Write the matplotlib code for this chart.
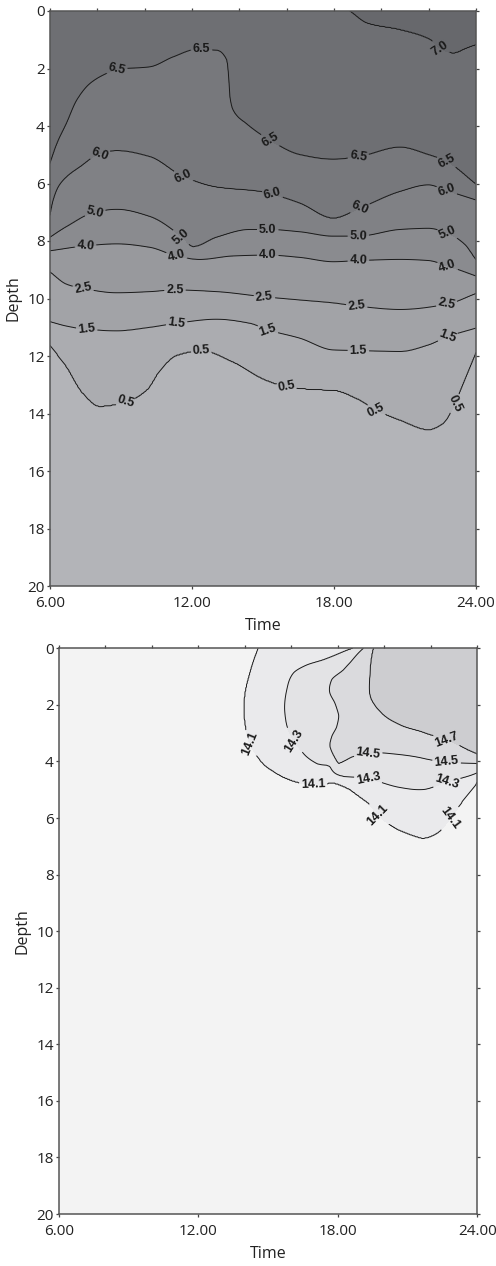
import numpy as np
import matplotlib
matplotlib.use('Agg')
import matplotlib.pyplot as plt
from matplotlib.ticker import MultipleLocator, FixedLocator, FixedFormatter

# ---------------- Top panel: isoline depths ----------------
o2_levels = [7.0, 6.5, 6.0, 5.0, 4.0, 2.5, 1.5, 0.5]

o2_70_time = [6.0, 18.0, 18.65, 19.4, 20.79, 22.06, 22.48, 23.04, 23.6, 24.0]
o2_70_depth = [-0.8, -0.3, 0.0, 0.43, 0.66, 1.0, 1.3, 1.47, 1.3, 1.18]

o2_65_time = [6.0, 6.3, 6.7, 7.13, 7.69, 8.39, 8.82, 10.22, 11.21, 12.2, 13.04, 13.47,
              13.55, 13.6, 13.74, 14.3, 15.3, 16.56, 17.97, 19.03, 20.79, 21.99, 22.76, 24.0]
o2_65_depth = [5.3, 4.6, 3.9, 3.1, 2.52, 2.17, 2.03, 1.94, 1.59, 1.33, 1.36, 1.7,
               2.27, 2.97, 3.45, 3.92, 4.5, 5.0, 5.16, 5.07, 4.74, 5.0, 5.24, 6.03]

o2_60_time = [6.0, 6.14, 6.35, 6.7, 7.27, 8.1, 8.82, 10.22, 11.63, 13.04, 14.87, 15.4,
              16.56, 17.97, 19.1, 20.79, 21.99, 22.76, 24.0]
o2_60_depth = [7.1, 6.57, 6.12, 5.77, 5.42, 4.97, 4.86, 5.07, 5.76, 6.13, 6.28, 6.38,
               6.69, 7.21, 6.86, 6.28, 6.05, 6.25, 6.57]

o2_50_time = [6.0, 6.7, 7.9, 8.82, 10.22, 11.56, 12.05, 13.04, 14.45, 15.2, 16.56, 17.97,
              19.03, 20.79, 21.99, 22.8, 23.5, 24.0]
o2_50_depth = [7.87, 7.5, 7.0, 6.9, 7.15, 7.85, 8.2, 7.87, 7.6, 7.6, 7.68, 7.83,
               7.83, 7.6, 7.56, 7.73, 8.1, 8.66]

o2_40_time = [6.0, 7.5, 8.82, 10.22, 11.35, 12.33, 13.74, 15.2, 16.56, 17.97, 19.03, 20.79,
              21.99, 22.8, 24.0]
o2_40_depth = [8.34, 8.17, 8.1, 8.22, 8.52, 8.64, 8.52, 8.49, 8.57, 8.72, 8.68, 8.64,
               8.68, 8.87, 9.22]

o2_25_time = [6.0, 6.7, 7.4, 8.82, 10.22, 11.28, 13.04, 15.06, 16.56, 17.97, 18.96, 20.79,
              22.76, 24.0]
o2_25_depth = [9.07, 9.5, 9.65, 9.8, 9.76, 9.7, 9.76, 9.94, 10.05, 10.15, 10.26, 10.38,
               10.2, 9.82]

o2_15_time = [6.0, 6.7, 7.55, 8.82, 10.22, 11.35, 13.04, 14.45, 15.2, 16.56, 17.97, 19.03,
              20.79, 21.99, 22.8, 24.0]
o2_15_depth = [10.81, 10.96, 11.07, 11.12, 11.0, 10.86, 10.72, 10.86, 11.09, 11.38, 11.79, 11.81,
               11.84, 11.61, 11.32, 11.03]

o2_05_time = [6.0, 6.7, 7.4, 8.1, 9.2, 10.08, 10.65, 11.35, 12.4, 13.74, 15.15, 15.99,
              17.26, 17.97, 18.96, 19.8, 20.79, 21.99, 22.6, 23.1, 23.45, 24.0]
o2_05_depth = [11.62, 12.37, 13.3, 13.74, 13.59, 13.18, 12.49, 11.97, 11.8, 12.2, 12.84, 13.05,
               13.16, 13.18, 13.47, 13.88, 14.22, 14.55, 14.34, 13.65, 12.95, 11.85]

o2_label_pos = [(8.82, 2.03), (12.4, 1.33), (15.3, 4.5), (19.03, 5.07), (22.76, 5.24),
                (22.48, 1.3),
                (8.1, 4.97), (11.63, 5.76), (15.4, 6.38), (19.1, 6.86), (22.76, 6.25),
                (7.9, 7.0), (11.56, 7.85), (15.2, 7.6), (19.03, 7.83), (22.8, 7.73),
                (7.5, 8.17), (11.35, 8.52), (15.2, 8.49), (19.03, 8.68), (22.8, 8.87),
                (7.4, 9.65), (11.28, 9.7), (15.06, 9.94), (18.96, 10.26), (22.76, 10.2),
                (7.55, 11.07), (11.35, 10.86), (15.2, 11.09), (19.03, 11.81), (22.8, 11.32),
                (9.2, 13.59), (12.4, 11.8), (15.99, 13.05), (19.8, 13.88), (23.1, 13.65)]

o2_fill_colors = ['#b3b4b8', '#abacb0', '#a2a3a7', '#98999d', '#8a8b8f',
                  '#808185', '#77787c', '#6e6f73', '#67686c']

# ---------------- Bottom panel: isolines ----------------
temp_levels = [14.7, 14.5, 14.3, 14.1]

temp_147_time = [19.52, 19.38, 19.45, 19.89, 20.67, 21.68, 22.68, 23.9, 24.0]
temp_147_depth = [0.0, 0.88, 1.83, 2.3, 2.71, 2.98, 3.24, 3.71, 3.75]

temp_145_time = [19.1, 18.23, 17.73, 17.66, 17.88, 18.02, 17.95, 17.73, 17.66, 17.8,
                 18.02, 18.66, 20.1, 21.68, 23.9, 24.0]
temp_145_depth = [0.0, 0.77, 1.12, 1.59, 1.95, 2.3, 2.77, 3.13, 3.48, 3.77,
                  4.07, 3.83, 3.71, 3.89, 4.07, 4.08]

temp_143_time = [18.66, 17.37, 16.66, 16.08, 15.8, 15.72, 15.87, 16.51, 17.09, 17.66,
                 17.8, 19.31, 20.67, 21.68, 22.68, 24.0]
temp_143_depth = [0.0, 0.41, 0.59, 0.88, 1.47, 2.3, 2.89, 3.71, 4.07, 4.19,
                  4.36, 4.6, 4.92, 4.99, 4.72, 4.4]

temp_141_time = [14.58, 14.22, 14.0, 14.0, 14.22, 14.65, 15.37, 16.23, 16.94, 17.95,
                 18.66, 19.24, 19.74, 20.67, 21.53, 22.25, 22.82, 23.4, 24.0]
temp_141_depth = [0.0, 0.88, 1.71, 2.54, 3.36, 3.95, 4.42, 4.72, 4.8, 4.78,
                  5.07, 5.42, 5.9, 6.43, 6.69, 6.54, 6.01, 5.36, 4.72]

temp_label_pos = [(14.22, 3.36), (16.94, 4.8), (19.74, 5.9), (22.82, 6.01),
                  (16.15, 3.24), (19.31, 4.6), (22.68, 4.72),
                  (19.31, 3.77), (22.68, 4.0),
                  (22.68, 3.24)]

temp_fill_colors = ['#f3f3f3', '#eaeaec', '#e3e3e5', '#dadadd', '#cdcdd0']

time_ticks = [6, 12, 18, 24]
time_ticklabels = ['6.00', '12.00', '18.00', '24.00']


# ---------------- smooth (monotone cubic) curve through read points ----------------
def pchip(x, y, xi):
    x = np.asarray(x, float)
    y = np.asarray(y, float)
    h = np.diff(x)
    delta = np.diff(y) / h
    n = len(x)
    d = np.zeros(n)
    for k in range(1, n - 1):
        if delta[k - 1] * delta[k] > 0:
            w1 = 2 * h[k] + h[k - 1]
            w2 = h[k] + 2 * h[k - 1]
            d[k] = (w1 + w2) / (w1 / delta[k - 1] + w2 / delta[k])
    d[0] = delta[0]
    d[-1] = delta[-1]
    xi = np.clip(np.asarray(xi, float), x[0], x[-1])
    idx = np.clip(np.searchsorted(x, xi) - 1, 0, n - 2)
    hh = h[idx]
    s = (xi - x[idx]) / hh
    h00 = 2 * s**3 - 3 * s**2 + 1
    h10 = s**3 - 2 * s**2 + s
    h01 = -2 * s**3 + 3 * s**2
    h11 = s**3 - s**2
    return h00 * y[idx] + h10 * hh * d[idx] + h01 * y[idx + 1] + h11 * hh * d[idx + 1]


# ---------------- grid fields built from the isolines ----------------
t_grid = np.linspace(6, 24, 541)
d_grid = np.linspace(0, 20, 601)
T, D = np.meshgrid(t_grid, d_grid)

o2_lines = [(o2_70_time, o2_70_depth), (o2_65_time, o2_65_depth), (o2_60_time, o2_60_depth),
            (o2_50_time, o2_50_depth), (o2_40_time, o2_40_depth), (o2_25_time, o2_25_depth),
            (o2_15_time, o2_15_depth), (o2_05_time, o2_05_depth)]
iso_depths = np.array([pchip(tt, dd, t_grid) for tt, dd in o2_lines])
Z1 = np.empty_like(T)
for j in range(len(t_grid)):
    xp = np.concatenate([[-50.0], iso_depths[:, j], [50.0]])
    fp = np.concatenate([[7.5], o2_levels, [0.0]])
    Z1[:, j] = np.interp(d_grid, xp, fp)

# polar description of the temperature isolines around the top-right corner
sx, sy = 23.24, 28.28
PX = (24 - T) * sx
PY = D * sy
TH = np.arctan2(PY, PX)
R = np.hypot(PX, PY)
temp_lines = [(temp_147_time, temp_147_depth), (temp_145_time, temp_145_depth),
              (temp_143_time, temp_143_depth), (temp_141_time, temp_141_depth)]
radii = []
for tt, dd in temp_lines:
    px = (24 - np.array(tt)) * sx
    py = np.array(dd) * sy
    th = np.arctan2(py, px)
    rr = np.hypot(px, py)
    order = np.argsort(th)
    radii.append(pchip(th[order], rr[order], TH))
r7, r5, r3, r1 = radii
Z2 = np.select([R <= r7, R <= r5, R <= r3, R <= r1],
               [14.85 - 0.15 * R / r7,
                14.7 - 0.2 * (R - r7) / (r5 - r7),
                14.5 - 0.2 * (R - r5) / (r3 - r5),
                14.3 - 0.2 * (R - r3) / (r1 - r3)],
               14.1 - 0.6 * (R - r1) / 3000.0)

# ---------------- figure ----------------
fig = plt.figure(figsize=(4.96, 12.66), dpi=100)
plt.rcParams['font.family'] = ['Open Sans', 'DejaVu Sans']

ax1 = fig.add_axes([50 / 496, 1 - 586 / 1266, 426 / 496, 575 / 1266])
ax2 = fig.add_axes([59 / 496, 1 - 1214 / 1266, 418.3 / 496, 565.7 / 1266])

# top
lv1 = [-1.0, 0.5, 1.5, 2.5, 4.0, 5.0, 6.0, 6.5, 7.0, 8.0]
ax1.contourf(T, D, Z1, levels=lv1, colors=o2_fill_colors)
cs1 = ax1.contour(T, D, Z1, levels=sorted(o2_levels), colors='#1a1a1a', linewidths=0.7)
txt1 = ax1.clabel(cs1, fmt='%.1f', manual=o2_label_pos, inline=True, inline_spacing=2, fontsize=9)
for tx in txt1:
    tx.set_fontfamily('Liberation Sans')
    tx.set_fontweight('bold')

# bottom
lv2 = [13.0, 14.1, 14.3, 14.5, 14.7, 15.5]
ax2.contourf(T, D, Z2, levels=lv2, colors=temp_fill_colors)
cs2 = ax2.contour(T, D, Z2, levels=sorted(temp_levels), colors='#1a1a1a', linewidths=0.7)
txt2 = ax2.clabel(cs2, fmt='%.1f', manual=temp_label_pos, inline=True, inline_spacing=2, fontsize=9)
for tx in txt2:
    tx.set_fontfamily('Liberation Sans')
    tx.set_fontweight('bold')

for ax in (ax1, ax2):
    ax.set_xlim(6, 24)
    ax.set_ylim(20, 0)
    ax.xaxis.set_major_locator(FixedLocator(time_ticks))
    ax.xaxis.set_major_formatter(FixedFormatter(time_ticklabels))
    ax.xaxis.set_minor_locator(MultipleLocator(2))
    ax.yaxis.set_major_locator(MultipleLocator(2))
    ax.tick_params(which='both', direction='out', length=2.2, width=0.9, color='#444444',
                   top=True, right=True, labeltop=False, labelright=False,
                   labelsize=11, labelcolor='#222222')
    ax.tick_params(axis='x', which='major', pad=5)
    ax.tick_params(axis='y', which='major', pad=1.5)
    ax.tick_params(which='minor', bottom=False, top=True)
    for s in ax.spines.values():
        s.set_color('#555555')
        s.set_linewidth(1.1)
    ax.set_xlabel('Time', fontsize=11.5, labelpad=5, color='#222222')
    ax.set_ylabel('Depth', fontsize=11.5, labelpad=4, color='#222222')

fig.savefig('out.png', dpi=100)
